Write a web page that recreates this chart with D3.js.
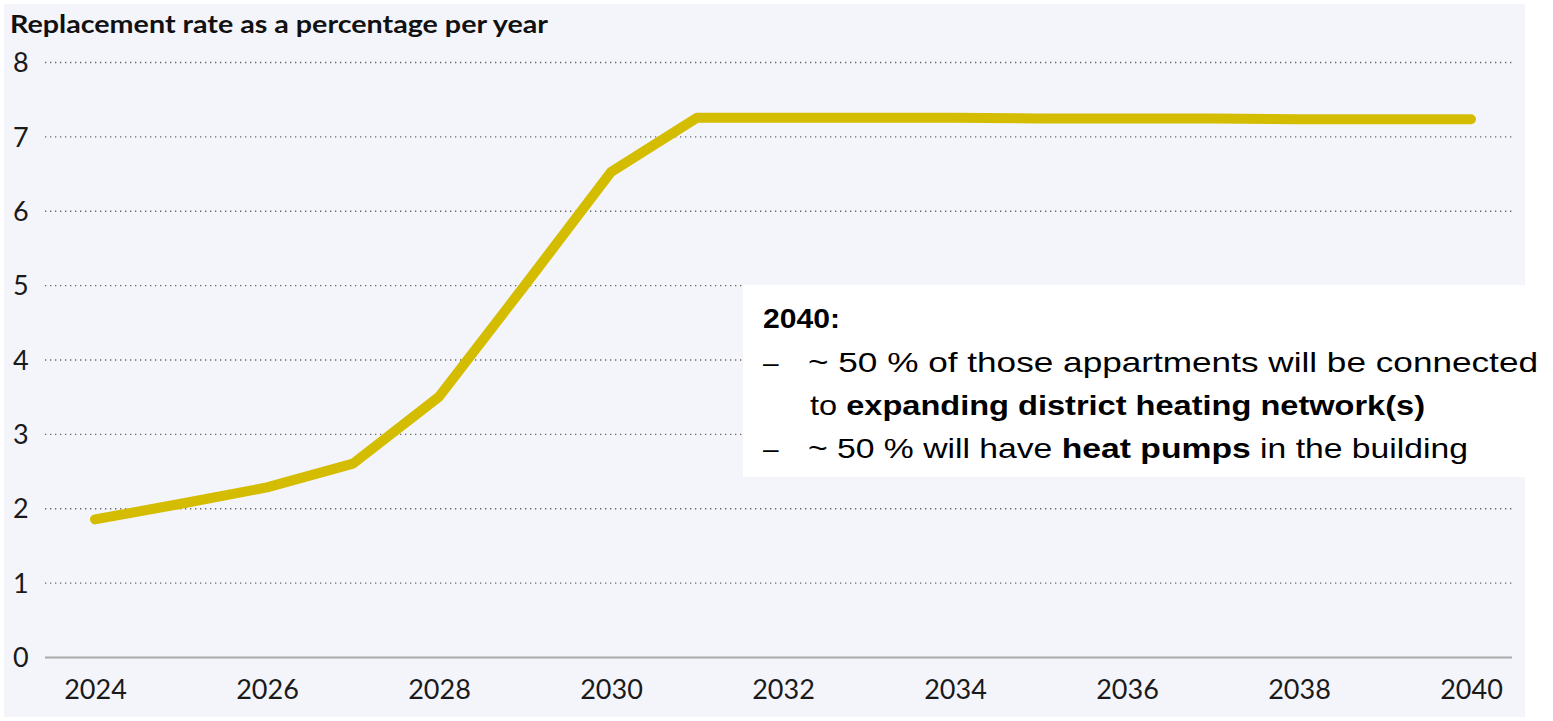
<!DOCTYPE html>
<html><head><meta charset="utf-8">
<script src="https://cdn.jsdelivr.net/npm/d3@7"></script>
<style>
html,body{margin:0;padding:0;background:#fff;}
svg{display:block;}
</style></head>
<body>
<svg id="c" width="1553" height="721"></svg>
<script>
const years = [2024,2025,2026,2027,2028,2029,2030,2031,2032,2033,2034,2035,2036,2037,2038,2039,2040];
const rates = [1.85,2.06,2.28,2.6,3.5,5.0,6.52,7.25,7.25,7.25,7.25,7.24,7.24,7.24,7.23,7.23,7.23];
const yTicks = [0,1,2,3,4,5,6,7,8];
const xTicks = [2024,2026,2028,2030,2032,2034,2036,2038,2040];
const title = "Replacement rate as a percentage per year";
const noteHead = "2040:";

const svg = d3.select("#c");
svg.append("rect").attr("x",4).attr("y",4).attr("width",1521).attr("height",713).attr("fill","#f4f5fb");

const x = d3.scaleLinear().domain([2024,2040]).range([95,1471]);
const y = d3.scaleLinear().domain([0,8]).range([657,62]);
const tf = "Lato, 'Open Sans', sans-serif";

svg.append("text").attr("x",10).attr("y",33).text(title)
  .attr("font-family",tf).attr("font-weight",700).attr("font-size",25).attr("fill","#111")
  .attr("textLength",538).attr("lengthAdjust","spacingAndGlyphs");

const gy = svg.append("g").attr("transform","translate(45,0)")
  .call(d3.axisLeft(y).tickValues(yTicks).tickSize(-1467).tickFormat(d3.format("d")));
gy.select(".domain").remove();
gy.selectAll(".tick line").attr("stroke","#666").attr("stroke-dasharray","1.3,3.7").attr("stroke-width",1.3)
  .filter(d=>d===0).attr("stroke","#aaa").attr("stroke-dasharray",null).attr("stroke-width",2);
gy.selectAll(".tick text").attr("x",-32).attr("dy","0.36em").attr("text-anchor","start").attr("font-family",tf)
  .attr("font-size",27).attr("fill","#1a1a1a");

const gx = svg.append("g").attr("transform","translate(0,657)")
  .call(d3.axisBottom(x).tickValues(xTicks).tickSize(0).tickPadding(0).tickFormat(d3.format("d")));
gx.select(".domain").remove();
gx.selectAll(".tick text").attr("dy",null).attr("y",42).attr("font-family",tf).attr("font-size",27).attr("fill","#1a1a1a");

const line = d3.line().x((d,i)=>x(years[i])).y(d=>y(d));
svg.append("path").datum(rates).attr("d",line).attr("fill","none").attr("stroke","#d4bd00")
  .attr("stroke-width",10).attr("stroke-linejoin","round").attr("stroke-linecap","round");

// annotation
svg.append("rect").attr("x",743).attr("y",285).attr("width",782).attr("height",192).attr("fill","#fff");
const ff = "'Liberation Sans', sans-serif";
svg.append("text").attr("x",763).attr("y",328).text(noteHead).attr("font-family",ff).attr("font-weight",700).attr("font-size",28).attr("fill","#000")
  .attr("textLength",77).attr("lengthAdjust","spacingAndGlyphs");
svg.append("text").attr("x",763).attr("y",372).text("–").attr("font-family",ff).attr("font-size",28);
svg.append("text").attr("x",808).attr("y",372).text("~ 50 % of those appartments will be connected").attr("font-family",ff).attr("font-size",28)
  .attr("textLength",730).attr("lengthAdjust","spacingAndGlyphs");
const t2 = svg.append("text").attr("x",810).attr("y",415).attr("font-family",ff).attr("font-size",28).attr("textLength",615).attr("lengthAdjust","spacingAndGlyphs");
t2.append("tspan").text("to ");
t2.append("tspan").attr("font-weight",700).text("expanding district heating network(s)");
svg.append("text").attr("x",763).attr("y",458).text("–").attr("font-family",ff).attr("font-size",28);
const t3 = svg.append("text").attr("x",808).attr("y",458).attr("font-family",ff).attr("font-size",28).attr("textLength",660).attr("lengthAdjust","spacingAndGlyphs");
t3.append("tspan").text("~ 50 % will have ");
t3.append("tspan").attr("font-weight",700).text("heat pumps");
t3.append("tspan").text(" in the building");
</script>
</body></html>
